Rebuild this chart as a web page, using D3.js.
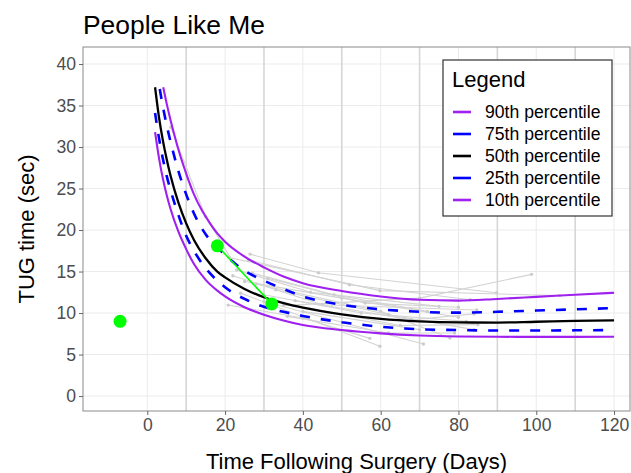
<!DOCTYPE html>
<html>
<head>
<meta charset="utf-8">
<script src="https://cdn.jsdelivr.net/npm/d3@7"></script>
<style>
html,body{margin:0;padding:0;background:#fff;}
svg{display:block;font-family:"Liberation Sans",Arial,sans-serif;}
</style>
</head>
<body>
<svg id="chart" width="631" height="473"></svg>
<script>
// ---------- data ----------
const chartTitle = "People Like Me";
const xLabel = "Time Following Surgery (Days)";
const yLabel = "TUG time (sec)";
const xTicks = [0, 20, 40, 60, 80, 100, 120];
const xMinorLines = [10, 30, 50, 70, 90, 110];
const yTicks = [0, 5, 10, 15, 20, 25, 30, 35, 40];

const p90 = [[4.1,37.2],[5,35.2],[6,33.2],[7,31.4],[8,29.7],[10,26.8],[12,24.3],[14,22.4],[16,20.9],[18,19.6],[20,18.6],[25,16.8],[30,15.5],[35,14.4],[40,13.6],[50,12.65],[60,12.0],[70,11.6],[80,11.5],[90,11.7],[100,11.95],[110,12.2],[120,12.45]];
const p75 = [[3.2,37.0],[4,34.9],[5,32.6],[6,30.6],[8,27.1],[10,24.3],[12,22.0],[15,19.5],[18,17.9],[20,17.0],[25,15.1],[30,13.9],[35,12.9],[40,12.0],[50,11.0],[60,10.45],[70,10.15],[80,10.05],[90,10.15],[100,10.3],[110,10.45],[120,10.6]];
const p50 = [[2,37.2],[3,33.6],[4,30.8],[5,28.5],[6,26.5],[8,23.3],[10,20.8],[12,18.8],[15,16.6],[18,15.0],[20,14.3],[25,12.9],[30,11.9],[35,11.2],[40,10.65],[50,9.85],[60,9.3],[70,9.0],[80,8.87],[90,8.85],[100,8.95],[110,9.05],[120,9.12]];
const p25 = [[2,34.1],[3,31.1],[4,28.6],[5,26.5],[6,24.8],[8,21.8],[10,19.3],[12,17.5],[15,15.4],[18,13.9],[20,13.1],[25,11.7],[30,10.75],[35,10.15],[40,9.65],[50,8.9],[60,8.35],[70,8.05],[80,7.95],[90,7.9],[100,7.9],[110,7.92],[120,7.95]];
const p10 = [[2,31.8],[3,28.7],[4,26.2],[5,24.2],[6,22.5],[8,19.8],[10,17.7],[12,15.9],[15,14.0],[18,12.7],[20,12.0],[25,10.7],[30,9.8],[35,9.1],[40,8.55],[50,7.95],[60,7.55],[70,7.3],[80,7.18],[90,7.14],[100,7.13],[110,7.13],[120,7.14]];

const percentileNames = ["90th percentile","75th percentile","50th percentile","25th percentile","10th percentile"];
const percentileColors = ["#A020F0","#0000FF","#000000","#0000FF","#A020F0"];
const percentileDashed = [false, true, false, true, false];

// other patients' trajectories (grey)
const otherPatients = [
  [[6,32.4],[15,21.6],[22,16.2]],
  [[26.4,17.1],[44,14.85],[89.8,12.45]],
  [[21,16.7],[59.8,12.7],[106,12.1]],
  [[35,10.9],[70,11.8],[98.8,14.66]],
  [[20.8,10.96],[40,9.4],[57.2,6.95]],
  [[24,12.4],[59.8,6.0]],
  [[30,11.4],[71,6.27]],
  [[22,14.5],[45,11.0],[84.7,10.36]],
  [[28,13.5],[60,10.2],[77.8,7.0]],
  [[25,13.8],[50,11.8],[80,9.5]],
  [[30,12.2],[55,10.0],[82,9.0]],
  [[33,12.8],[62,9.8],[84,8.0]],
  [[23,15.2],[42,12.5],[75,10.8]],
  [[35,11.2],[65,8.5],[85,8.6]],
  [[40,10.2],[70,8.0]],
  [[27,14.8],[48,12.2],[72,10.2]],
  [[38,11.5],[68,9.2],[84,9.9]],
  [[31,14.2],[56,11.2],[80,10.7]],
  [[26,16.4],[52,13.4],[83,11.6]],
  [[36,9.6],[62,7.6],[79,7.6]]
];

// this patient (green)
const patientX = [-7, 18, 32];
const patientY = [9.0, 18.1, 11.1];

// ---------- layout ----------
const svg = d3.select("#chart");
const panel = {left: 83, right: 630, top: 47, bottom: 411};
const x = d3.scaleLinear().domain([-16.53, 124.1]).range([panel.left, panel.right]);
const y = d3.scaleLinear().domain([-1.8, 42.05]).range([panel.bottom, panel.top]);

svg.append("defs").append("clipPath").attr("id","clip")
  .append("rect").attr("x",panel.left).attr("y",panel.top)
  .attr("width",panel.right-panel.left).attr("height",panel.bottom-panel.top);

// grid
const grid = svg.append("g");
grid.selectAll(".hy").data(yTicks).join("line")
  .attr("x1",panel.left).attr("x2",panel.right)
  .attr("y1",d=>y(d)).attr("y2",d=>y(d))
  .attr("stroke","#ebebeb").attr("stroke-width",1);
grid.selectAll(".vx").data(xTicks).join("line")
  .attr("y1",panel.top).attr("y2",panel.bottom)
  .attr("x1",d=>x(d)).attr("x2",d=>x(d))
  .attr("stroke","#ebebeb").attr("stroke-width",1);
grid.selectAll(".vm").data(xMinorLines).join("line")
  .attr("y1",panel.top).attr("y2",panel.bottom)
  .attr("x1",d=>x(d)).attr("x2",d=>x(d))
  .attr("stroke","#d6d6d6").attr("stroke-width",1.6);

const plot = svg.append("g").attr("clip-path","url(#clip)");
const lineGen = d3.line().x(d=>x(d[0])).y(d=>y(d[1]));

// grey trajectories
const gp = plot.append("g");
otherPatients.forEach(p=>{
  gp.append("path").attr("d",lineGen(p)).attr("fill","none")
    .attr("stroke","#d3d3d3").attr("stroke-width",1.1);
  gp.selectAll(null).data(p).join("circle")
    .attr("cx",d=>x(d[0])).attr("cy",d=>y(d[1])).attr("r",1.7)
    .attr("fill","#cccccc");
});

// percentile curves
const curveGen = d3.line().x(d=>x(d[0])).y(d=>y(d[1])).curve(d3.curveMonotoneX);
const curves = [p90, p75, p50, p25, p10];
curves.forEach((c,i)=>{
  plot.append("path").attr("d",curveGen(c)).attr("fill","none")
    .attr("stroke",percentileColors[i])
    .attr("stroke-width", percentileDashed[i] ? 2.6 : (i===2 ? 2.3 : 2.1))
    .attr("stroke-dasharray", percentileDashed[i] ? "10,11" : null);
});

// patient
const pts = patientX.map((d,i)=>[d,patientY[i]]);
plot.append("path").attr("d",lineGen(pts.filter(d=>d[0]>0))).attr("fill","none")
  .attr("stroke","#00FF00").attr("stroke-width",1.6);
plot.selectAll(".pt").data(pts).join("circle")
  .attr("cx",d=>x(d[0])).attr("cy",d=>y(d[1])).attr("r",6.5)
  .attr("fill","#00FF00");

// panel border
svg.append("rect").attr("x",panel.left).attr("y",panel.top)
  .attr("width",panel.right-panel.left).attr("height",panel.bottom-panel.top)
  .attr("fill","none").attr("stroke","#8a8a8a").attr("stroke-width",1);

// axes
const xAxis = svg.append("g").attr("transform",`translate(0,${panel.bottom})`)
  .call(d3.axisBottom(x).tickValues(xTicks).tickSize(4).tickPadding(4).tickFormat(d3.format("d")));
const yAxis = svg.append("g").attr("transform",`translate(${panel.left},0)`)
  .call(d3.axisLeft(y).tickValues(yTicks).tickSize(4).tickPadding(3).tickFormat(d3.format("d")));
[xAxis,yAxis].forEach(a=>{
  a.select(".domain").remove();
  a.selectAll(".tick line").attr("stroke","#666");
  a.selectAll(".tick text").attr("fill","#4d4d4d").style("font-size","17.6px")
    .style("font-family",'"Liberation Sans",Arial,sans-serif');
});

// titles
svg.append("text").attr("x",83).attr("y",34).text(chartTitle)
  .style("font-size","26.4px").attr("fill","#000");
svg.append("text").attr("x",(panel.left+panel.right)/2).attr("y",469)
  .attr("text-anchor","middle").text(xLabel).style("font-size","22px").attr("fill","#000");
svg.append("text").attr("transform",`translate(34,${(panel.top+panel.bottom)/2}) rotate(-90)`)
  .attr("text-anchor","middle").text(yLabel).style("font-size","22px").attr("fill","#000");

// legend
const lg = svg.append("g");
lg.append("rect").attr("x",443).attr("y",60).attr("width",169).attr("height",156)
  .attr("fill","#fff").attr("stroke","#333").attr("stroke-width",1.2);
lg.append("text").attr("x",452).attr("y",87).text("Legend").style("font-size","22px");
percentileNames.forEach((n,i)=>{
  const cy = 112 + i*22;
  lg.append("line").attr("x1",453).attr("x2",471).attr("y1",cy).attr("y2",cy)
    .attr("stroke",percentileColors[i]).attr("stroke-width",2.6);
  lg.append("text").attr("x",485).attr("y",cy+6.2).text(n).style("font-size","17.6px");
});
</script>
</body>
</html>
